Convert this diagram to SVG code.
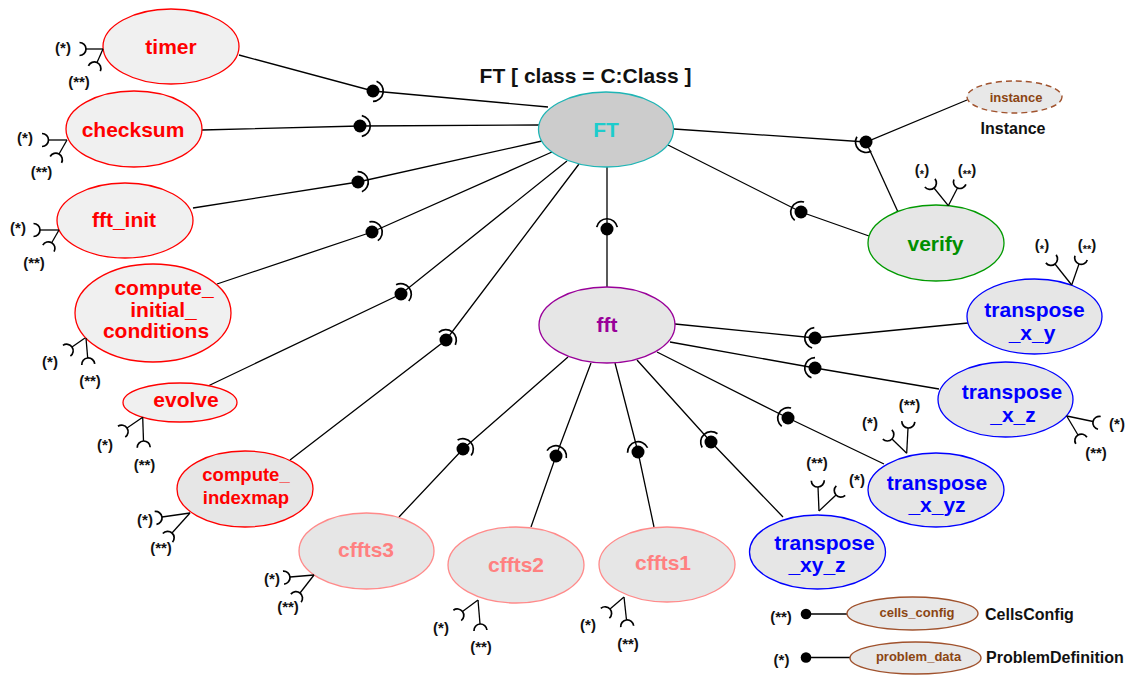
<svg xmlns="http://www.w3.org/2000/svg" xmlns:xlink="http://www.w3.org/1999/xlink" width="1126" height="675" viewBox="0 0 1126 675">
  <style>
    text { font-family: "Liberation Sans", Arial, sans-serif; font-weight: bold; text-anchor: middle; }
    .lbl { font-size: 21px; }
    .lbl-s { font-size: 18.5px; }
    .star { font-size: 15px; fill: #111; }
    .red { fill: #f0f0f0; stroke: #ff0000; stroke-width: 1.3; }
    .red2 { fill: #e6e6e6; stroke: #ff0000; stroke-width: 1.3; }
    .pink { fill: #e6e6e6; stroke: #ff8a8a; stroke-width: 1.3; }
    .blue { fill: #e6e6e6; stroke: #0000ff; stroke-width: 1.3; }
    .green { fill: #e6e6e6; stroke: #009a00; stroke-width: 1.3; }
    .purple { fill: #e6e6e6; stroke: #990099; stroke-width: 1.3; }
    .teal { fill: #cccccc; stroke: #1fb5b5; stroke-width: 1.3; }
    .brown { fill: #e8e8e8; stroke: #a0522d; stroke-width: 1.4; }
    .t-red { fill: #ff0000; }
    .t-pink { fill: #ff8080; }
    .t-blue { fill: #0000ff; }
    .t-green { fill: #008f00; }
    .t-purple { fill: #990099; }
    .t-teal { fill: #1ccccc; }
    .t-brown { fill: #8b4513; font-size: 13px; }
    .t-black { fill: #111; font-size: 16px; }
    .wire { stroke: #000; stroke-width: 1.3; fill: none; }
    .arc { stroke: #000; stroke-width: 1.7; fill: none; }
    .ball { fill: #000; }
  </style>
  <defs>
    <!-- required-interface socket: apex at origin, opening along +x -->
    <path id="sock" class="arc" d="M 6.5,-6.5 A 6.5 6.5 0 0 0 6.5,6.5"/>
    <!-- socket cup around a ball, facing +x -->
    <path id="cup" class="arc" d="M 1.8,-10.3 A 10.5 10.5 0 0 1 1.8,10.3"/>
  </defs>

  <!-- title -->
  <text x="585.5" y="83" style="font-size:21px" fill="#111">FT [ class = C:Class ]</text>

  <!-- connectors -->
  <g id="connectors">
    <!-- timer -->
    <polyline class="wire" points="239,55 373,91 548,107"/>
    <circle class="ball" cx="373" cy="91" r="6.5"/>
    <use xlink:href="#cup" transform="translate(373,91) rotate(10)"/>
    <!-- checksum -->
    <polyline class="wire" points="202,130 360,126 539,125"/>
    <circle class="ball" cx="360" cy="126" r="6.5"/>
    <use xlink:href="#cup" transform="translate(360,126) rotate(0)"/>
    <!-- fft_init -->
    <polyline class="wire" points="193,208 358,182 542,141"/>
    <circle class="ball" cx="358" cy="182" r="6.5"/>
    <use xlink:href="#cup" transform="translate(358,182) rotate(-12)"/>
    <!-- compute_initial_conditions -->
    <polyline class="wire" points="217,284 372,232 552,152"/>
    <circle class="ball" cx="372" cy="232" r="6.5"/>
    <use xlink:href="#cup" transform="translate(372,232) rotate(-24)"/>
    <!-- evolve -->
    <polyline class="wire" points="208,386 401,294 567,161"/>
    <circle class="ball" cx="401" cy="294" r="6.5"/>
    <use xlink:href="#cup" transform="translate(401,294) rotate(-38)"/>
    <!-- compute_indexmap -->
    <polyline class="wire" points="290,460 446,340 579,164"/>
    <circle class="ball" cx="446" cy="340" r="6.5"/>
    <use xlink:href="#cup" transform="translate(446,340) rotate(-53)"/>
    <!-- FT / fft -->
    <polyline class="wire" points="607,167 607,229 607,287"/>
    <circle class="ball" cx="607" cy="229" r="6.5"/>
    <use xlink:href="#cup" transform="translate(607,229) rotate(-90)"/>
    <!-- FT / verify -->
    <polyline class="wire" points="668,145 801,212 869,236"/>
    <circle class="ball" cx="801" cy="212" r="6.5"/>
    <use xlink:href="#cup" transform="translate(801,212) rotate(-153)"/>
    <!-- FT / instance junction -->
    <polyline class="wire" points="674,129 866,142 967,100"/>
    <line class="wire" x1="866" y1="142" x2="898" y2="212"/>
    <circle class="ball" cx="866" cy="142" r="6.5"/>
    <path class="arc" d="M 856.9,136.75 A 10.5 10.5 0 0 0 871.25,151.09"/>
    <!-- fft / cffts3 -->
    <polyline class="wire" points="568,357 463,449 399,517"/>
    <circle class="ball" cx="463" cy="449" r="6.5"/>
    <use xlink:href="#cup" transform="translate(463,449) rotate(-41)"/>
    <!-- fft / cffts2 -->
    <polyline class="wire" points="591,363 556,456 531,527"/>
    <circle class="ball" cx="556" cy="456" r="6.5"/>
    <use xlink:href="#cup" transform="translate(556,456) rotate(-69)"/>
    <!-- fft / cffts1 -->
    <polyline class="wire" points="615,363 638,452 654,527"/>
    <circle class="ball" cx="638" cy="452" r="6.5"/>
    <use xlink:href="#cup" transform="translate(638,452) rotate(-104)"/>
    <!-- fft / transpose_xy_z -->
    <polyline class="wire" points="637,360 711,442 783,517"/>
    <circle class="ball" cx="711" cy="442" r="6.5"/>
    <use xlink:href="#cup" transform="translate(711,442) rotate(-132)"/>
    <!-- fft / transpose_x_yz -->
    <polyline class="wire" points="657,352 788,418 884,464"/>
    <circle class="ball" cx="788" cy="418" r="6.5"/>
    <use xlink:href="#cup" transform="translate(788,418) rotate(-153)"/>
    <!-- fft / transpose_x_z -->
    <polyline class="wire" points="670,342 815,368 939,389"/>
    <circle class="ball" cx="815" cy="368" r="6.5"/>
    <use xlink:href="#cup" transform="translate(815,368) rotate(-170)"/>
    <!-- fft / transpose_x_y -->
    <polyline class="wire" points="675,324 815,338 968,323"/>
    <circle class="ball" cx="815" cy="338" r="6.5"/>
    <use xlink:href="#cup" transform="translate(815,338) rotate(-174)"/>
  </g>

  <!-- FT -->
  <g id="FT">
    <ellipse class="teal" cx="606" cy="129.5" rx="67.5" ry="37.5"/>
    <text class="lbl t-teal" x="606" y="137">FT</text>
  </g>

  <!-- fft -->
  <g id="fft">
    <ellipse class="purple" cx="607" cy="325" rx="68" ry="38"/>
    <text class="lbl t-purple" x="607" y="332">fft</text>
  </g>

  <!-- instance -->
  <g id="instance">
    <ellipse class="brown" cx="1014.5" cy="97" rx="47.5" ry="16" stroke-dasharray="6,4"/>
    <text class="t-brown" x="1016" y="102">instance</text>
    <text class="t-black" x="1013" y="134">Instance</text>
  </g>

  <!-- timer -->
  <g id="timer">
    <ellipse class="red" cx="171" cy="46.5" rx="68" ry="37.5"/>
    <text class="lbl t-red" x="171" y="54">timer</text>
    <line class="wire" x1="103" y1="49" x2="86" y2="49"/>
    <use xlink:href="#sock" transform="translate(86,49) rotate(180)"/>
    <line class="wire" x1="103" y1="49" x2="97" y2="62.5"/>
    <use xlink:href="#sock" transform="translate(97,62.5) rotate(114)"/>
    <text class="star" x="63" y="53">(*)</text>
    <text class="star" x="79" y="87">(**)</text>
  </g>

  <!-- checksum -->
  <g id="checksum">
    <ellipse class="red" cx="134" cy="129" rx="68" ry="38"/>
    <text class="lbl t-red" x="133" y="137">checksum</text>
    <line class="wire" x1="67" y1="140" x2="48.5" y2="140"/>
    <use xlink:href="#sock" transform="translate(48.5,140) rotate(180)"/>
    <line class="wire" x1="67" y1="140" x2="59" y2="154"/>
    <use xlink:href="#sock" transform="translate(59,154) rotate(119)"/>
    <text class="star" x="25" y="143">(*)</text>
    <text class="star" x="41.5" y="177">(**)</text>
  </g>

  <!-- fft_init -->
  <g id="fft_init">
    <ellipse class="red" cx="125" cy="220.5" rx="68" ry="37.5"/>
    <text class="lbl t-red" x="124" y="227">fft_init</text>
    <line class="wire" x1="59" y1="230" x2="40" y2="230"/>
    <use xlink:href="#sock" transform="translate(40,230) rotate(180)"/>
    <line class="wire" x1="59" y1="230" x2="51.7" y2="242.7"/>
    <use xlink:href="#sock" transform="translate(51.7,242.7) rotate(120)"/>
    <text class="star" x="18" y="233">(*)</text>
    <text class="star" x="34" y="268">(**)</text>
  </g>

  <!-- compute_initial_conditions -->
  <g id="compute_initial_conditions">
    <ellipse class="red" cx="153" cy="313" rx="78" ry="49"/>
    <text class="lbl t-red" x="164" y="295">compute_</text>
    <text class="lbl t-red" x="163.5" y="317">initial_</text>
    <text class="lbl t-red" x="156" y="338">conditions</text>
    <line class="wire" x1="85" y1="338" x2="72" y2="347"/>
    <use xlink:href="#sock" transform="translate(72,347) rotate(145)"/>
    <line class="wire" x1="86" y1="338" x2="87.7" y2="358"/>
    <use xlink:href="#sock" transform="translate(87.7,358) rotate(85)"/>
    <text class="star" x="50" y="367">(*)</text>
    <text class="star" x="90" y="386">(**)</text>
  </g>

  <!-- evolve -->
  <g id="evolve">
    <ellipse class="red" cx="180" cy="402.5" rx="57" ry="19.5"/>
    <text class="lbl t-red" x="186" y="407">evolve</text>
    <line class="wire" x1="142.7" y1="417.3" x2="127" y2="428"/>
    <use xlink:href="#sock" transform="translate(127,428) rotate(146)"/>
    <line class="wire" x1="142.7" y1="417.3" x2="143.5" y2="441"/>
    <use xlink:href="#sock" transform="translate(143.5,441) rotate(88)"/>
    <text class="star" x="105" y="450">(*)</text>
    <text class="star" x="144.5" y="470">(**)</text>
  </g>

  <!-- compute_indexmap -->
  <g id="compute_indexmap">
    <ellipse class="red2" cx="245" cy="489" rx="68" ry="38"/>
    <text class="lbl-s t-red" x="246" y="481">compute_</text>
    <text class="lbl-s t-red" x="246" y="504">indexmap</text>
    <line class="wire" x1="190" y1="513" x2="162" y2="517"/>
    <use xlink:href="#sock" transform="translate(162,517) rotate(172)"/>
    <line class="wire" x1="190" y1="513" x2="172" y2="533"/>
    <use xlink:href="#sock" transform="translate(172,533) rotate(132)"/>
    <text class="star" x="145" y="525">(*)</text>
    <text class="star" x="161" y="553">(**)</text>
  </g>

  <!-- cffts3 -->
  <g id="cffts3">
    <ellipse class="pink" cx="366.5" cy="551" rx="67.5" ry="38"/>
    <text class="lbl t-pink" x="366" y="557">cffts3</text>
    <line class="wire" x1="314" y1="575" x2="290" y2="577"/>
    <use xlink:href="#sock" transform="translate(290,577) rotate(175)"/>
    <line class="wire" x1="314" y1="575" x2="300" y2="593"/>
    <use xlink:href="#sock" transform="translate(300,593) rotate(128)"/>
    <text class="star" x="272" y="584">(*)</text>
    <text class="star" x="288" y="612">(**)</text>
  </g>

  <!-- cffts2 -->
  <g id="cffts2">
    <ellipse class="pink" cx="516" cy="565" rx="68" ry="38"/>
    <text class="lbl t-pink" x="516" y="572">cffts2</text>
    <line class="wire" x1="478" y1="600" x2="462.5" y2="611.5"/>
    <use xlink:href="#sock" transform="translate(462.5,611.5) rotate(143)"/>
    <line class="wire" x1="478" y1="600" x2="480" y2="624"/>
    <use xlink:href="#sock" transform="translate(480,624) rotate(86)"/>
    <text class="star" x="441" y="633">(*)</text>
    <text class="star" x="481" y="652">(**)</text>
  </g>

  <!-- cffts1 -->
  <g id="cffts1">
    <ellipse class="pink" cx="667" cy="564.5" rx="68" ry="37.5"/>
    <text class="lbl t-pink" x="663" y="570">cffts1</text>
    <line class="wire" x1="624" y1="597" x2="610" y2="609"/>
    <use xlink:href="#sock" transform="translate(610,609) rotate(139)"/>
    <line class="wire" x1="624" y1="597" x2="626.5" y2="620"/>
    <use xlink:href="#sock" transform="translate(626.5,620) rotate(84)"/>
    <text class="star" x="588" y="630">(*)</text>
    <text class="star" x="628" y="649">(**)</text>
  </g>

  <!-- transpose_xy_z -->
  <g id="transpose_xy_z">
    <ellipse class="blue" cx="817.5" cy="552" rx="68" ry="37"/>
    <text class="lbl t-blue" x="824.5" y="550">transpose</text>
    <text class="lbl t-blue" x="817" y="572">_xy_z</text>
    <line class="wire" x1="819" y1="511" x2="818" y2="487"/>
    <use xlink:href="#sock" transform="translate(818,487) rotate(-92)"/>
    <line class="wire" x1="819" y1="511" x2="836" y2="495"/>
    <use xlink:href="#sock" transform="translate(836,495) rotate(-43)"/>
    <text class="star" x="817" y="468">(**)</text>
    <text class="star" x="857" y="485">(*)</text>
  </g>

  <!-- transpose_x_yz -->
  <g id="transpose_x_yz">
    <ellipse class="blue" cx="936" cy="490" rx="68" ry="37"/>
    <text class="lbl t-blue" x="937" y="490">transpose</text>
    <text class="lbl t-blue" x="937" y="512">_x_yz</text>
    <line class="wire" x1="906.7" y1="453.3" x2="892" y2="439"/>
    <use xlink:href="#sock" transform="translate(892,439) rotate(-136)"/>
    <line class="wire" x1="906.7" y1="453.3" x2="908" y2="428"/>
    <use xlink:href="#sock" transform="translate(908,428) rotate(-87)"/>
    <text class="star" x="870" y="428">(*)</text>
    <text class="star" x="909.5" y="410">(**)</text>
  </g>

  <!-- transpose_x_z -->
  <g id="transpose_x_z">
    <ellipse class="blue" cx="1005.5" cy="399.5" rx="67.5" ry="37.5"/>
    <text class="lbl t-blue" x="1012" y="399">transpose</text>
    <text class="lbl t-blue" x="1013" y="422">_x_z</text>
    <line class="wire" x1="1066.7" y1="416" x2="1093" y2="421.5"/>
    <use xlink:href="#sock" transform="translate(1093,421.5) rotate(12)"/>
    <line class="wire" x1="1066.7" y1="416" x2="1078" y2="435"/>
    <use xlink:href="#sock" transform="translate(1078,435) rotate(59)"/>
    <text class="star" x="1117" y="429">(*)</text>
    <text class="star" x="1096" y="458">(**)</text>
  </g>

  <!-- transpose_x_y -->
  <g id="transpose_x_y">
    <ellipse class="blue" cx="1034.5" cy="316.5" rx="67.5" ry="37.5"/>
    <text class="lbl t-blue" x="1034.5" y="317">transpose</text>
    <text class="lbl t-blue" x="1032" y="340">_x_y</text>
    <line class="wire" x1="1071.7" y1="285" x2="1055" y2="264"/>
    <use xlink:href="#sock" transform="translate(1055,264) rotate(-128)"/>
    <line class="wire" x1="1071.7" y1="285" x2="1079" y2="264"/>
    <use xlink:href="#sock" transform="translate(1079,264) rotate(-71)"/>
    <text class="star" x="1042" y="250">(<tspan dy="3" style="font-size:11px">*</tspan><tspan dy="-3">)</tspan></text>
    <text class="star" x="1087" y="250">(<tspan dy="3" style="font-size:11px">**</tspan><tspan dy="-3">)</tspan></text>
  </g>

  <!-- verify -->
  <g id="verify">
    <ellipse class="green" cx="936" cy="243" rx="68" ry="38"/>
    <text class="lbl t-green" x="935.5" y="251">verify</text>
    <line class="wire" x1="948.3" y1="205.7" x2="934" y2="188"/>
    <use xlink:href="#sock" transform="translate(934,188) rotate(-129)"/>
    <line class="wire" x1="948.3" y1="205.7" x2="957.5" y2="188"/>
    <use xlink:href="#sock" transform="translate(957.5,188) rotate(-68)"/>
    <text class="star" x="922" y="175">(<tspan dy="3" style="font-size:11px">*</tspan><tspan dy="-3">)</tspan></text>
    <text class="star" x="967" y="175">(<tspan dy="3" style="font-size:11px">**</tspan><tspan dy="-3">)</tspan></text>
  </g>

  <!-- cells_config -->
  <g id="cells_config">
    <text class="star" x="781" y="622">(**)</text>
    <circle class="ball" cx="806" cy="614" r="5.3"/>
    <line class="wire" x1="806" y1="614" x2="847" y2="614"/>
    <ellipse class="brown" cx="912.5" cy="613.5" rx="65.5" ry="16.5"/>
    <text class="t-brown" x="917" y="617">cells_config</text>
    <text class="t-black" x="985" y="620" style="text-anchor:start">CellsConfig</text>
  </g>

  <!-- problem_data -->
  <g id="problem_data">
    <text class="star" x="781.5" y="665">(*)</text>
    <circle class="ball" cx="806" cy="657.5" r="5.3"/>
    <line class="wire" x1="806" y1="657.5" x2="850" y2="657.5"/>
    <ellipse class="brown" cx="915.5" cy="658" rx="65.5" ry="16"/>
    <text class="t-brown" x="918.5" y="661">problem_data</text>
    <text class="t-black" x="986" y="663" style="text-anchor:start">ProblemDefinition</text>
  </g>
</svg>
